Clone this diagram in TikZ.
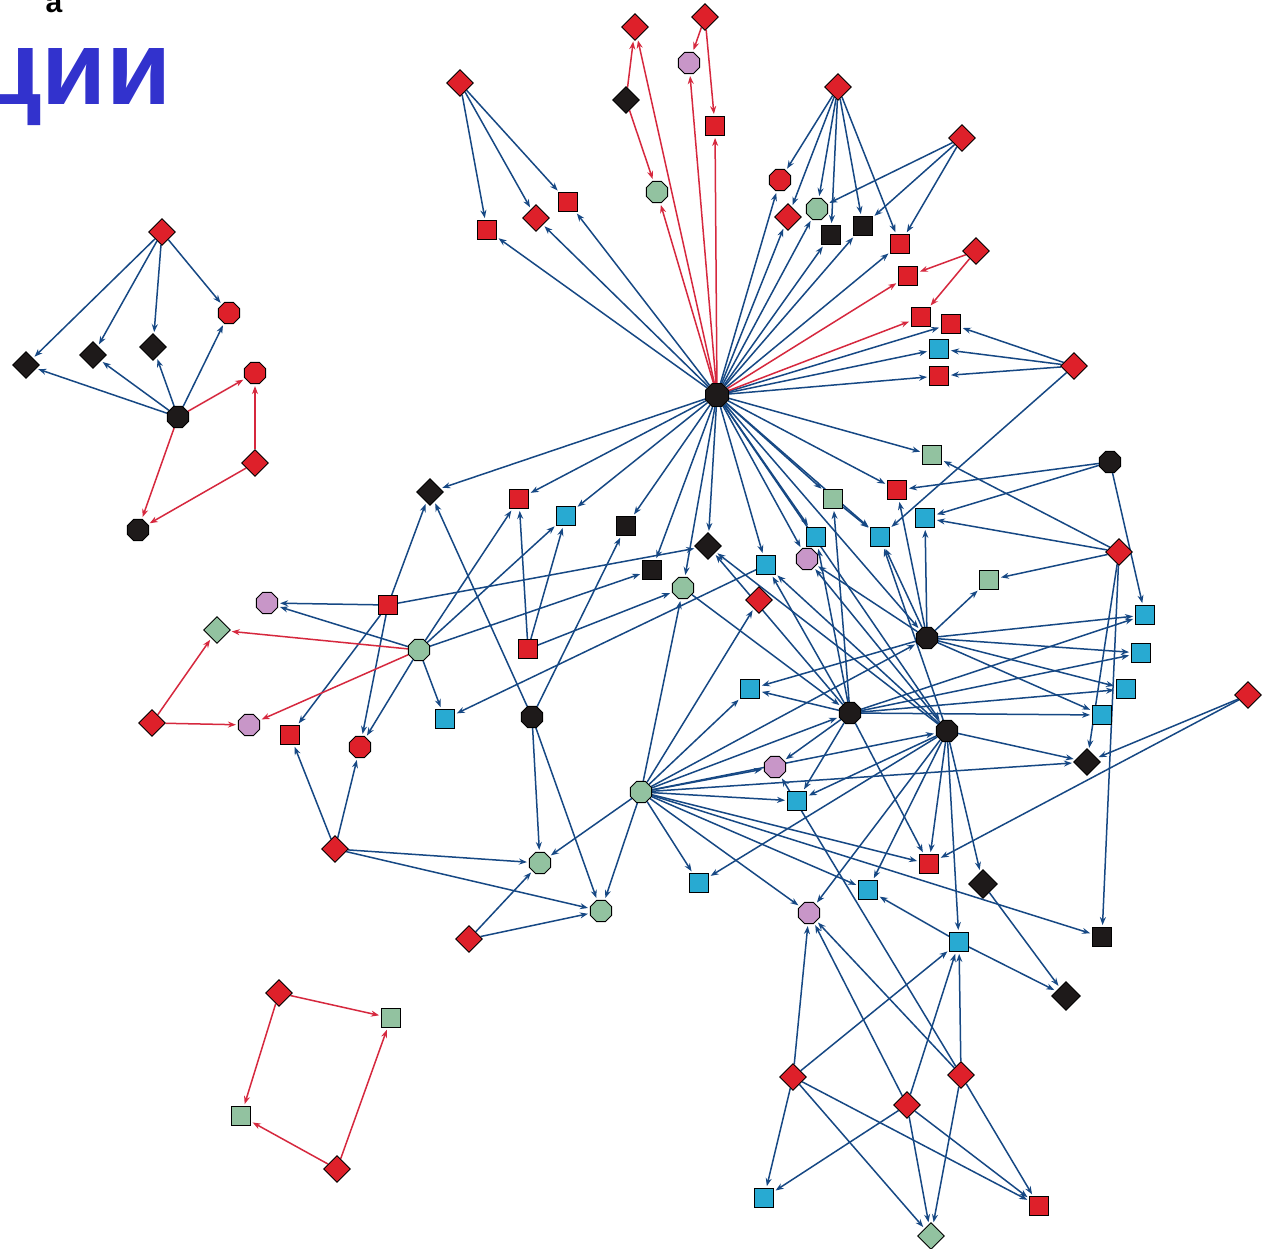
\documentclass[tikz,border=0pt]{standalone}
\usepackage{fontspec}
\setmainfont{Liberation Sans}
\usetikzlibrary{shapes.geometric,arrows.meta}
\pgfdeclarelayer{bg}
\pgfdeclarelayer{edges}
\pgfsetlayers{bg,edges,main}
\definecolor{cR}{RGB}{222,32,42}
\definecolor{cK}{RGB}{30,26,26}
\definecolor{cG}{RGB}{146,194,160}
\definecolor{cP}{RGB}{200,150,200}
\definecolor{cC}{RGB}{40,170,210}
\definecolor{eB}{RGB}{22,72,132}
\definecolor{eR}{RGB}{214,40,62}
\definecolor{tB}{RGB}{50,50,205}
\tikzset{
  nb/.style={draw=black, line width=0.9pt, inner sep=0pt},
  sq/.style={nb, rectangle, minimum size=19pt},
  dia/.style={nb, diamond, minimum size=27pt},
  oct/.style={nb, regular polygon, regular polygon sides=8, minimum size=23pt},
  be/.style={draw=eB, line width=1.5pt, -{Stealth[length=8pt,width=6pt]}, shorten >=2pt},
  re/.style={draw=eR, line width=1.5pt, -{Stealth[length=8pt,width=6pt]}, shorten >=2pt}
}
\begin{document}
\begin{tikzpicture}[x=1pt,y=-1pt]
\useasboundingbox (0,0) rectangle (1262,1249);
\begin{pgfonlayer}{bg}
\fill[white] (0,0) rectangle (1262,1249);
\end{pgfonlayer}
% texts
\node[anchor=base east, inner sep=0pt, text=tB, font=\fontsize{106}{110}\selectfont\bfseries] (title) at (172,105) {ции};
\node[anchor=base, inner sep=0pt, font=\fontsize{30}{30}\selectfont\bfseries] (lbl) at (54,13) {a};
% top-left cluster
\node[dia,fill=cR] (a1) at (162,232) {};
\node[oct,fill=cR] (a2) at (229,313) {};
\node[dia,fill=cK] (a3) at (26,365) {};
\node[dia,fill=cK] (a4) at (93,355) {};
\node[dia,fill=cK] (a5) at (153,347) {};
\node[oct,fill=cR] (a6) at (255,373) {};
\node[oct,fill=cK] (a7) at (178,417) {};
\node[dia,fill=cR] (a8) at (255,463) {};
\node[oct,fill=cK] (a9) at (138,530) {};
% top
\node[dia,fill=cR] (t1) at (460,83) {};
\node[sq,fill=cR] (t2) at (487,230) {};
\node[dia,fill=cR] (t3) at (536,218) {};
\node[sq,fill=cR] (t4) at (568,202) {};
\node[dia,fill=cR] (t5) at (635,27) {};
\node[dia,fill=cR] (t6) at (705,17) {};
\node[oct,fill=cP] (t7) at (689,63) {};
\node[dia,fill=cK] (t8) at (626,100) {};
\node[sq,fill=cR] (t9) at (715,126) {};
\node[oct,fill=cG] (t10) at (657,192) {};
\node[oct,fill=cK,minimum size=25pt] (h) at (717,395) {};
\node[dia,fill=cR] (u1) at (838,87) {};
\node[oct,fill=cR] (u2) at (780,180) {};
\node[dia,fill=cR] (u3) at (788,217) {};
\node[oct,fill=cG] (u4) at (817,209) {};
\node[sq,fill=cK] (u5) at (831,235) {};
\node[sq,fill=cK] (u6) at (863,226) {};
\node[sq,fill=cR] (u7) at (900,244) {};
\node[dia,fill=cR] (u8) at (962,138) {};
\node[dia,fill=cR] (u9) at (976,251) {};
\node[sq,fill=cR] (u10) at (908,276) {};
\node[sq,fill=cR] (u11) at (921,317) {};
\node[sq,fill=cR] (u12) at (951,324) {};
\node[sq,fill=cC] (u13) at (939,349) {};
\node[sq,fill=cR] (u14) at (939,376) {};
\node[dia,fill=cR] (u15) at (1074,366) {};
% middle
\node[oct,fill=cP] (m1) at (267,603) {};
\node[dia,fill=cG] (m2) at (217,630) {};
\node[dia,fill=cR] (m3) at (152,723) {};
\node[oct,fill=cP] (m4) at (249,725) {};
\node[sq,fill=cR] (m5) at (290,735) {};
\node[oct,fill=cR] (m6) at (360,747) {};
\node[sq,fill=cR] (m7) at (388,605) {};
\node[oct,fill=cG] (g1) at (419,650) {};
\node[dia,fill=cK] (m8) at (430,492) {};
\node[dia,fill=cR] (m9) at (335,849) {};
\node[sq,fill=cC] (m10) at (445,719) {};
\node[sq,fill=cR] (m11) at (528,649) {};
\node[oct,fill=cK] (bk) at (532,717) {};
\node[sq,fill=cR] (m12) at (519,499) {};
\node[sq,fill=cC] (m13) at (566,516) {};
\node[sq,fill=cK] (m14) at (626,526) {};
\node[sq,fill=cK] (m15) at (652,570) {};
\node[dia,fill=cK] (m16) at (708,546) {};
\node[oct,fill=cG] (m17) at (683,588) {};
\node[sq,fill=cC] (m18) at (766,565) {};
\node[dia,fill=cR] (m19) at (759,600) {};
\node[oct,fill=cP] (m20) at (807,559) {};
\node[sq,fill=cC] (m21) at (816,537) {};
\node[sq,fill=cG] (m22) at (833,499) {};
\node[sq,fill=cC] (m23) at (880,537) {};
\node[sq,fill=cR] (m24) at (897,490) {};
\node[sq,fill=cG] (m25) at (932,455) {};
\node[sq,fill=cC] (m26) at (925,518) {};
\node[oct,fill=cK] (bo) at (1110,462) {};
\node[dia,fill=cR] (rd) at (1119,552) {};
\node[sq,fill=cG] (m27) at (989,580) {};
\node[sq,fill=cC] (c1) at (1145,615) {};
\node[sq,fill=cC] (c2) at (1141,653) {};
\node[sq,fill=cC] (c3) at (1126,689) {};
\node[sq,fill=cC] (c4) at (1102,715) {};
\node[oct,fill=cK] (b3) at (927,638) {};
\node[oct,fill=cK] (b2) at (850,713) {};
\node[oct,fill=cK] (b4) at (947,731) {};
\node[dia,fill=cK] (bd) at (1087,762) {};
\node[dia,fill=cR] (rr) at (1248,695) {};
\node[sq,fill=cC] (m28) at (750,689) {};
\node[oct,fill=cG] (g2) at (641,792) {};
\node[oct,fill=cP] (m29) at (775,767) {};
\node[sq,fill=cC] (m30) at (797,801) {};
% bottom
\node[oct,fill=cG] (l1) at (540,863) {};
\node[oct,fill=cG] (l2) at (601,911) {};
\node[dia,fill=cR] (l3) at (469,939) {};
\node[sq,fill=cC] (l4) at (699,883) {};
\node[oct,fill=cP] (l5) at (809,913) {};
\node[sq,fill=cC] (l6) at (868,890) {};
\node[sq,fill=cR] (l7) at (929,864) {};
\node[dia,fill=cK,minimum size=29pt] (l8) at (983,884) {};
\node[sq,fill=cK] (l9) at (1102,937) {};
\node[sq,fill=cC] (l10) at (959,942) {};
\node[dia,fill=cK,minimum size=29pt] (l11) at (1066,996) {};
\node[dia,fill=cR] (d1) at (793,1077) {};
\node[dia,fill=cR] (d2) at (907,1105) {};
\node[dia,fill=cR] (d3) at (961,1075) {};
\node[sq,fill=cC] (l12) at (764,1198) {};
\node[sq,fill=cR] (l13) at (1039,1206) {};
\node[dia,fill=cG] (l14) at (931,1236) {};
% bottom-left
\node[dia,fill=cR] (q1) at (279,993) {};
\node[sq,fill=cG] (q2) at (391,1018) {};
\node[sq,fill=cG] (q3) at (241,1116) {};
\node[dia,fill=cR] (q4) at (337,1169) {};
\begin{pgfonlayer}{edges}
\foreach \a/\b in {a1/a3,a1/a4,a1/a5,a1/a2,a7/a3,a7/a4,a7/a5,a7/a2,
  t1/t2,t1/t3,t1/t4,h/t2,h/t3,h/t4,
  u1/u2,u1/u3,u1/u4,u1/u5,u1/u6,u1/u7,u8/u4,u8/u6,u8/u7,
  h/u2,h/u3,h/u4,h/u5,h/u6,h/u7,h/u12,h/u13,h/u14,
  u15/u12,u15/u13,u15/u14,u15/m23,
  h/m25,h/m24,h/m22,h/m21,h/m20,h/m18,h/m16,h/m17,h/m15,h/m14,h/m13,h/m12,h/m8,h/b3,h/b4,h/m23,
  m7/m1,g1/m1,m7/m8,m7/m5,m7/m6,m7/m16,g1/m15,g1/m6,g1/m10,g1/m12,g1/m13,
  m11/m12,m11/m13,m11/m17,m18/m10,
  m9/m5,m9/m6,m9/l1,m9/l2,l3/l1,l3/l2,bk/m8,bk/m14,bk/l1,bk/l2,
  g2/l1,g2/l2,g2/l4,g2/l5,g2/l6,g2/l7,g2/l9,g2/bd,g2/m29,g2/m30,g2/m28,g2/m19,g2/m17,g2/b2,g2/b3,g2/b4,
  bo/m24,bo/m26,bo/c1,rd/m25,rd/m26,rd/m27,rd/bd,rd/l9,
  b3/m27,b3/c1,b3/c2,b3/c3,b3/c4,b3/m28,b3/m20,b3/m23,b3/m24,b3/m26,
  b2/c1,b2/c2,b2/c3,b2/c4,b2/m28,b2/m29,b2/m30,b2/l7,b2/m18,b2/m21,b2/m22,b2/m16,
  b4/bd,b4/l10,b4/l8,b4/l7,b4/l5,b4/l6,b4/l4,b4/m30,b4/m20,b4/m23,b4/m18,b4/m16,
  rr/bd,rr/l7,m17/b2,m22/m23,
  l10/l6,l8/l11,l10/l11,
  d1/l5,d1/l12,d1/l10,d1/l13,d1/l14,d2/l10,d2/l14,d2/l13,d2/l12,d2/l5,
  d3/l10,d3/l14,d3/l13,d3/l5,d3/m29}
  \draw[be] (\a) -- (\b);
\foreach \a/\b in {a7/a6,a8/a6,a8/a9,a7/a9,
  t8/t5,t8/t10,t6/t7,t6/t9,h/t5,h/t7,h/t9,h/t10,
  u9/u10,u9/u11,h/u10,h/u11,
  m3/m2,m3/m4,g1/m2,g1/m4,
  q1/q2,q1/q3,q4/q3,q4/q2}
  \draw[re] (\a) -- (\b);
\end{pgfonlayer}
\end{tikzpicture}
\end{document}
